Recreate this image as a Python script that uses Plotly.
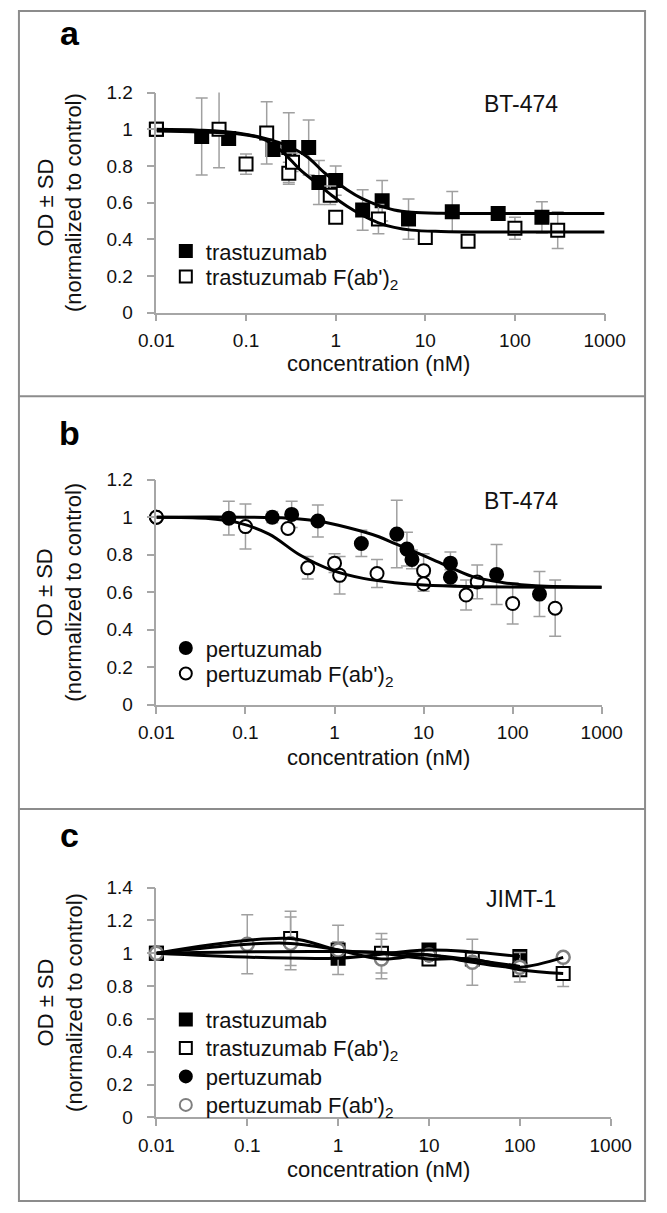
import plotly.graph_objects as go

W, H = 667, 1213

# ---------------- Panel a (BT-474, trastuzumab) ----------------
a_tras_conc = [0.01, 0.032, 0.064, 0.2, 0.3, 0.5, 0.65, 1.0, 2.0, 3.3, 6.5, 20, 65, 200]
a_tras_od = [1.0, 0.96, 0.95, 0.89, 0.90, 0.90, 0.71, 0.72, 0.56, 0.61, 0.51, 0.55, 0.54, 0.52]
a_tras_sd = [0, 0.21, 0.02, 0.03, 0.19, 0.15, 0.12, 0.08, 0.11, 0.11, 0.11, 0.11, 0.02, 0.085]

a_fab_conc = [0.01, 0.05, 0.1, 0.17, 0.3, 0.33, 0.87, 1.0, 3.0, 10, 30, 100, 300]
a_fab_od = [1.0, 1.0, 0.81, 0.98, 0.76, 0.82, 0.64, 0.52, 0.51, 0.41, 0.39, 0.46, 0.45]
a_fab_sd = [0, 0.21, 0.055, 0.17, 0.06, 0.05, 0.05, 0.02, 0.08, 0.02, 0.02, 0.06, 0.10]

a_tras_fit_conc = [0.01, 0.03, 0.08, 0.18, 0.29, 0.48, 0.76, 1.34, 2.0, 3.0, 4.5, 7, 15, 50, 1000]
a_tras_fit_od = [1.0, 0.995, 0.98, 0.945, 0.91, 0.85, 0.76, 0.67, 0.62, 0.585, 0.56, 0.548, 0.542, 0.54, 0.54]
a_fab_fit_conc = [0.01, 0.03, 0.08, 0.15, 0.25, 0.4, 0.6, 0.9, 1.34, 2.0, 3.0, 4.5, 7, 15, 50, 1000]
a_fab_fit_od = [0.99, 0.985, 0.975, 0.95, 0.88, 0.78, 0.71, 0.64, 0.58, 0.53, 0.49, 0.465, 0.45, 0.443, 0.44, 0.44]

# ---------------- Panel b (BT-474, pertuzumab) ----------------
b_per_conc = [0.01, 0.065, 0.2, 0.33, 0.65, 2.0, 5.0, 6.5, 7.4, 20, 20, 66, 200]
b_per_od = [1.0, 0.995, 1.0, 1.015, 0.98, 0.86, 0.91, 0.83, 0.775, 0.755, 0.68, 0.695, 0.59]
b_per_sd = [0, 0.09, 0.03, 0.07, 0.085, 0.07, 0.18, 0.09, 0.05, 0.06, 0.04, 0.16, 0.12]

b_fab_conc = [0.01, 0.1, 0.3, 0.5, 1.0, 1.14, 3.0, 10, 10, 30, 40, 100, 300]
b_fab_od = [1.0, 0.95, 0.94, 0.73, 0.755, 0.69, 0.70, 0.715, 0.645, 0.585, 0.655, 0.54, 0.515]
b_fab_sd = [0, 0.12, 0.02, 0.06, 0.05, 0.10, 0.075, 0.09, 0.04, 0.08, 0.09, 0.11, 0.15]

b_per_fit_conc = [0.01, 0.1, 0.3, 0.65, 1.4, 3.15, 4.7, 7.1, 16, 35.6, 79, 180, 1000]
b_per_fit_od = [1.0, 1.0, 0.995, 0.98, 0.945, 0.896, 0.86, 0.826, 0.753, 0.683, 0.651, 0.634, 0.627]
b_fab_fit_conc = [0.01, 0.036, 0.082, 0.184, 0.414, 0.93, 2.1, 4.7, 10, 30, 1000]
b_fab_fit_od = [1.0, 0.994, 0.971, 0.91, 0.797, 0.718, 0.674, 0.651, 0.638, 0.63, 0.627]

# ---------------- Panel c (JIMT-1) ----------------
c_tras_conc = [0.01, 1, 10, 100]
c_tras_od = [1.0, 0.97, 1.02, 0.98]
c_tras_sd = [0, 0.03, 0.03, 0.04]

c_trasfab_conc = [0.01, 0.3, 1, 3, 10, 30, 100, 300]
c_trasfab_od = [1.0, 1.09, 1.02, 1.0, 0.965, 0.965, 0.90, 0.877]
c_trasfab_sd = [0, 0.165, 0.05, 0.12, 0.04, 0.03, 0.03, 0.08]

c_per_conc = [0.01, 1, 10, 100]
c_per_od = [1.0, 1.01, 0.99, 0.92]
c_per_sd = [0, 0.03, 0.03, 0.03]

c_perfab_conc = [0.01, 0.1, 0.3, 1, 3, 10, 30, 100, 300]
c_perfab_od = [1.0, 1.055, 1.06, 1.02, 0.965, 0.99, 0.945, 0.915, 0.975]
c_perfab_sd = [0, 0.18, 0.16, 0.15, 0.12, 0.03, 0.14, 0.09, 0.02]

x_tickvals = [0.01, 0.1, 1, 10, 100, 1000]
x_ticktext = ["0.01", "0.1", "1", "10", "100", "1000"]

FONT = "Liberation Sans, Arial, sans-serif"
GRAY = "#a6a6a6"
ERR = "#a0a0a0"

# panel geometry in pixels
geom = {
    "a": dict(x0=147, x1=623, y0=84, y1=308, ymax=1.2, dtick=0.2),
    "b": dict(x0=147, x1=620, y0=478, y1=707, ymax=1.2, dtick=0.2),
    "c": dict(x0=147, x1=629.5, y0=893, y1=1127, ymax=1.4, dtick=0.2),
}

fig = go.Figure()


def fx(p):
    return p / W


def fy(p):
    return 1 - p / H


legend_rows = []  # (legend id, row centre in px)


def markers(x, y, sd, name, symbol, fill, edge, ax, row_px, lw=2, size=13):
    lid = "legend" if not legend_rows else "legend%d" % (len(legend_rows) + 1)
    legend_rows.append((lid, row_px))
    fig.add_trace(go.Scatter(
        x=x, y=y, mode="markers", name=name,
        marker=dict(symbol=symbol, size=size, color=fill, line=dict(color=edge, width=lw)),
        error_y=dict(type="data", array=sd, visible=True, color=ERR, thickness=1.5, width=6),
        xaxis="x" + ax, yaxis="y" + ax, legend=lid, cliponaxis=False,
    ))


def curve(x, y, ax):
    fig.add_trace(go.Scatter(
        x=x, y=y, mode="lines", showlegend=False, hoverinfo="skip",
        line=dict(color="black", width=3, shape="spline", smoothing=1.0),
        xaxis="x" + ax, yaxis="y" + ax, cliponaxis=False,
    ))


# Panel a
markers(a_tras_conc, a_tras_od, a_tras_sd, "trastuzumab", "square", "black", "black", "", 245)
markers(a_fab_conc, a_fab_od, a_fab_sd, "trastuzumab F(ab')<sub>2</sub>", "square", "white", "black", "", 271)
curve(a_tras_fit_conc, a_tras_fit_od, "")
curve(a_fab_fit_conc, a_fab_fit_od, "")

# Panel b
markers(b_per_conc, b_per_od, b_per_sd, "pertuzumab", "circle", "black", "black", "2", 649)
markers(b_fab_conc, b_fab_od, b_fab_sd, "pertuzumab F(ab')<sub>2</sub>", "circle", "white", "black", "2", 675)
curve(b_per_fit_conc, b_per_fit_od, "2")
curve(b_fab_fit_conc, b_fab_fit_od, "2")

# Panel c
markers(c_tras_conc, c_tras_od, c_tras_sd, "trastuzumab", "square", "black", "black", "3", 1027)
markers(c_trasfab_conc, c_trasfab_od, c_trasfab_sd, "trastuzumab F(ab')<sub>2</sub>", "square", "white", "black", "3", 1056)
markers(c_per_conc, c_per_od, c_per_sd, "pertuzumab", "circle", "black", "black", "3", 1085)
markers(c_perfab_conc, c_perfab_od, c_perfab_sd, "pertuzumab F(ab')<sub>2</sub>", "circle", "white", "#7f7f7f", "3", 1114, lw=2.5)
curve(c_tras_conc, c_tras_od, "3")
curve(c_trasfab_conc, c_trasfab_od, "3")
curve(c_per_conc, c_per_od, "3")
curve(c_perfab_conc, c_perfab_od, "3")

layout = dict(
    width=W, height=H, margin=dict(l=0, r=0, t=0, b=0),
    paper_bgcolor="white", plot_bgcolor="white",
    font=dict(family=FONT, color="#111", size=20),
    showlegend=True,
)

for key, suffix in (("a", ""), ("b", "2"), ("c", "3")):
    g = geom[key]
    layout["xaxis" + suffix] = dict(
        domain=[fx(g["x0"]), fx(g["x1"])], anchor="y" + suffix,
        type="log", range=[-2, 3], tickvals=x_tickvals, ticktext=x_ticktext,
        showline=True, linecolor=GRAY, linewidth=1.5, ticks="outside", ticklen=7,
        tickcolor=GRAY, tickwidth=1.5, showgrid=False, zeroline=False,
        tickfont=dict(size=19, family=FONT, color="#111"), ticklabelstandoff=3,
    )
    layout["yaxis" + suffix] = dict(
        domain=[fy(g["y1"]), fy(g["y0"])], anchor="x" + suffix,
        range=[0, g["ymax"]], dtick=g["dtick"], tick0=0,
        showline=True, linecolor=GRAY, linewidth=1.5, ticks="outside", ticklen=8,
        tickcolor=GRAY, tickwidth=1.5, showgrid=False, zeroline=False,
        tickfont=dict(size=19, family=FONT, color="#111"), ticklabelstandoff=10,
    )

LEG_OFF = 21
for lid, row in legend_rows:
    layout[lid] = dict(x=fx(157), y=fy(row - LEG_OFF), xanchor="left", yanchor="top",
                       bgcolor="rgba(0,0,0,0)", font=dict(size=22, family=FONT, color="#111"),
                       itemsizing="constant")

annotations = []
# panel letters
for letter, yy in (("a", 23), ("b", 430), ("c", 840)):
    annotations.append(dict(text="<b>" + letter + "</b>", x=fx(55), y=fy(yy), xref="paper", yref="paper",
                            showarrow=False, font=dict(size=34, family=FONT, color="black"),
                            xanchor="center", yanchor="middle"))
# cell line labels
for label, yy in (("BT-474", 96), ("BT-474", 500), ("JIMT-1", 905)):
    annotations.append(dict(text=label, x=fx(534), y=fy(yy), xref="paper", yref="paper",
                            showarrow=False, font=dict(size=23, family=FONT, color="#111"),
                            xanchor="center", yanchor="middle"))
# x-axis titles
for yy in (360, 761, 1180):
    annotations.append(dict(text="concentration (nM)", x=fx(383), y=fy(yy), xref="paper", yref="paper",
                            showarrow=False, font=dict(size=22, family=FONT, color="#111"),
                            xanchor="center", yanchor="middle"))
# y-axis titles
for key in ("a", "b", "c"):
    g = geom[key]
    annotations.append(dict(text="OD ± SD<br>(normalized to control)", x=fx(44),
                            y=fy((g["y0"] + g["y1"]) / 2), xref="paper", yref="paper",
                            showarrow=False, textangle=-90,
                            font=dict(size=22, family=FONT, color="#111"),
                            xanchor="center", yanchor="middle"))
layout["annotations"] = annotations

# panel frames
BORDER = "#8c8c8c"
shapes = [
    dict(type="rect", xref="paper", yref="paper", x0=fx(1), x1=fx(666), y0=fy(1212), y1=fy(1),
         line=dict(color=BORDER, width=2)),
    dict(type="line", xref="paper", yref="paper", x0=fx(1), x1=fx(666), y0=fy(393), y1=fy(393),
         line=dict(color=BORDER, width=2)),
    dict(type="line", xref="paper", yref="paper", x0=fx(1), x1=fx(666), y0=fy(813), y1=fy(813),
         line=dict(color=BORDER, width=2)),
]
layout["shapes"] = shapes

fig.update_layout(**layout)
fig.write_html(
    "out.html",
    config={"displayModeBar": False},
    post_script="document.body.style.margin='0';document.body.style.overflow='hidden';",
)
